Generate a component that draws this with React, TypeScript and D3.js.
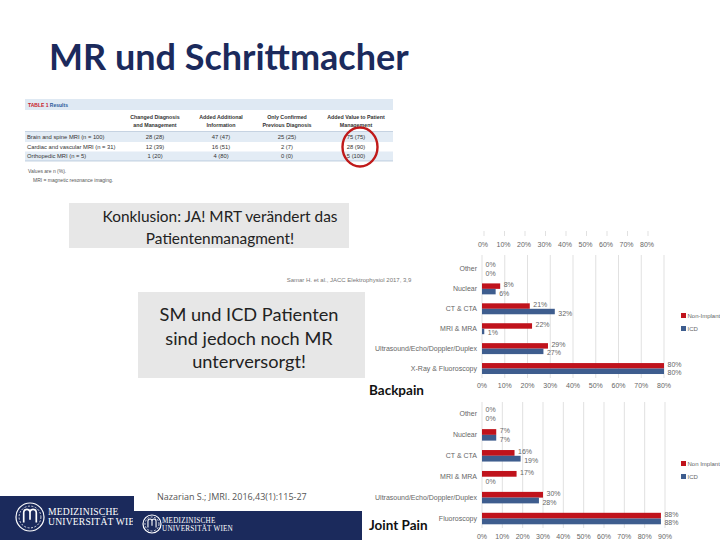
import React from "react";
import * as d3 from "d3";

// ---------- data ----------
const titleText = "MR und Schrittmacher";

const tableHeaders = [
  ["Changed Diagnosis", "and Management"],
  ["Added Additional", "Information"],
  ["Only Confirmed", "Previous Diagnosis"],
  ["Added Value to Patient", "Management"],
];
const tableRowLabels = [
  "Brain and spine MRI (n = 100)",
  "Cardiac and vascular MRI (n = 31)",
  "Orthopedic MRI (n = 5)",
];
const tableValues = [
  ["28 (28)", "47 (47)", "25 (25)", "75 (75)"],
  ["12 (39)", "16 (51)", "2 (7)", "28 (90)"],
  ["1 (20)", "4 (80)", "0 (0)", "5 (100)"],
];
const tableNotes = ["Values are n (%).", "MRI = magnetic resonance imaging."];

const box1Lines = ["Konklusion: JA! MRT verändert das", "Patientenmanagment!"];
const box2Lines = ["SM und ICD Patienten", "sind jedoch noch MR", "unterversorgt!"];
const citation1 = "Samar H. et al., JACC Elektrophysiol 2017, 3,9";
const citation2 = "Nazarian S.; JMRI. 2016,43(1):115-27";

const categories1 = ["Other", "Nuclear", "CT & CTA", "MRI & MRA", "Ultrasound/Echo/Doppler/Duplex", "X-Ray & Fluoroscopy"];
const nonImplant1 = [0, 8, 21, 22, 29, 80];
const icd1 = [0, 6, 32, 1, 27, 80];
const ticks1 = [0, 10, 20, 30, 40, 50, 60, 70, 80];

const categories2 = ["Other", "Nuclear", "CT & CTA", "MRI & MRA", "Ultrasound/Echo/Doppler/Duplex", "Fluoroscopy"];
const nonImplant2 = [0, 7, 16, 17, 30, 88];
const icd2 = [0, 7, 19, 0, 28, 88];
const ticks2 = [0, 10, 20, 30, 40, 50, 60, 70, 80, 90];

const seriesNames1 = ["Non-Implant", "ICD"];
const seriesNames2 = ["Non Implant", "ICD"];
const chartTitles = ["Backpain", "Joint Pain"];
const logoLines = ["MEDIZINISCHE", "UNIVERSITÄT WIEN"];

// ---------- styles ----------
const RED = "#c0131c";
const BLUE = "#3e5d8e";
const NAVY = "#1b2a5c";
const GRID = "#d9d9d9";
const LABEL = "#666";
const SANS = "Liberation Sans, Arial, sans-serif";
const CAL = "Lato, sans-serif";

function BarChart({ cats, nonVals, icdVals, xMax, xRange, yRange, gridY, axisY, legendY, names, ticks }) {
  const x = d3.scaleLinear().domain([0, xMax]).range(xRange);
  const y = d3.scaleBand().domain(cats).range(yRange).paddingInner(0.45).paddingOuter(0.225);
  const bh = y.bandwidth() / 2;
  return (
    <g>
      {ticks.map((t) => (
        <line key={"g" + t} x1={x(t)} x2={x(t)} y1={gridY[0]} y2={gridY[1]} stroke={GRID} strokeWidth={0.8} />
      ))}
      {ticks.map((t) => (
        <text key={"t" + t} x={x(t)} y={axisY} fontSize={7} fontFamily={SANS} fill={LABEL} textAnchor="middle">
          {t}%
        </text>
      ))}
      {cats.map((c, i) => {
        const y0 = y(c)!;
        const cy = y0 + bh;
        return (
          <g key={c}>
            <text x={xRange[0] - 5} y={cy + 2.4} fontSize={7} fontFamily={SANS} fill={LABEL} textAnchor="end">
              {c}
            </text>
            <rect x={x(0)} y={y0} width={x(nonVals[i]) - x(0)} height={bh} fill={RED} />
            <rect x={x(0)} y={y0 + bh} width={x(icdVals[i]) - x(0)} height={bh} fill={BLUE} />
            <text x={x(nonVals[i]) + 3.5} y={y0 + bh / 2 + 1} fontSize={7} fontFamily={SANS} fill={LABEL}>
              {nonVals[i]}%
            </text>
            <text x={x(icdVals[i]) + 3.5} y={y0 + bh * 1.5 + 4} fontSize={7} fontFamily={SANS} fill={LABEL}>
              {icdVals[i]}%
            </text>
          </g>
        );
      })}
      {names.map((n, i) => (
        <g key={n}>
          <rect x={681} y={legendY + i * 13 - 3} width={5} height={5} fill={i === 0 ? RED : BLUE} />
          <text x={687.5} y={legendY + i * 13 + 2.2} fontSize={6} fontFamily={SANS} fill={LABEL}>
            {n}
          </text>
        </g>
      ))}
    </g>
  );
}

function Logo({ cx, cy, r, tx, ty, fs, gap, clip }) {
  return (
    <g>
      <circle cx={cx} cy={cy} r={r} fill="none" stroke="#fff" strokeWidth={1.2} />
      <circle cx={cx} cy={cy} r={r * 0.78} fill="none" stroke="#fff" strokeWidth={0.8} strokeDasharray="2 1.5" />
      <path
        d={`M${cx - r * 0.45},${cy + r * 0.4} V${cy - r * 0.3} Q${cx - r * 0.45},${cy - r * 0.55} ${cx - r * 0.22},${cy - r * 0.55} Q${cx},${cy - r * 0.55} ${cx},${cy - r * 0.3} V${cy + r * 0.2} M${cx},${cy - r * 0.3} Q${cx},${cy - r * 0.55} ${cx + r * 0.22},${cy - r * 0.55} Q${cx + r * 0.45},${cy - r * 0.55} ${cx + r * 0.45},${cy - r * 0.3} V${cy + r * 0.4}`}
        fill="none"
        stroke="#fff"
        strokeWidth={r * 0.12}
      />
      <g clipPath={clip ? `url(#${clip})` : undefined}>
        {logoLines.map((l, i) => (
          <text key={l} x={tx} y={ty + i * gap} fontSize={fs} fontFamily="Liberation Serif, serif" fill="#fff" letterSpacing={0.2}>
            {l}
          </text>
        ))}
      </g>
    </g>
  );
}

export default function App() {
  const colX = [155, 221, 287, 356];
  const rowY = [137, 146.5, 156];
  return (
    <svg width={720} height={540} style={{ position: "absolute", left: 0, top: 0, background: "#fff" }}>
      <defs>
        <clipPath id="logoClip">
          <rect x={0} y={490} width={133} height={50} />
        </clipPath>
      </defs>
      <rect width={720} height={540} fill="#fff" />
      {/* title */}
      <text x={49} y={70} fontSize={36} fontWeight={700} fontFamily={CAL} fill={NAVY}>
        {titleText}
      </text>

      {/* table */}
      <rect x={25} y={99} width={368} height={11} fill="#dfe9f3" />
      <text x={28} y={106.5} fontSize={5} fontWeight={700} fontFamily={SANS} fill="#c8202a">
        TABLE 1 <tspan fill="#2a5a9a">Results</tspan>
      </text>
      {tableHeaders.map((h, i) => (
        <g key={i}>
          {h.map((l, j) => (
            <text key={j} x={colX[i]} y={119 + j * 8} fontSize={5.3} fontWeight={700} fontFamily={SANS} fill="#333" textAnchor="middle">
              {l}
            </text>
          ))}
        </g>
      ))}
      <line x1={25} x2={393} y1={131.5} y2={131.5} stroke="#9fb6cf" strokeWidth={0.6} />
      <rect x={25} y={132} width={368} height={10} fill="#e3ecf5" />
      <rect x={25} y={151.5} width={368} height={9.5} fill="#e3ecf5" />
      <line x1={25} x2={393} y1={161} y2={161} stroke="#9fb6cf" strokeWidth={0.6} />
      {tableRowLabels.map((l, i) => (
        <g key={l}>
          <text x={27} y={rowY[i] + 2} fontSize={5.8} fontFamily={SANS} fill="#333">
            {l}
          </text>
          {tableValues[i].map((v, j) => (
            <text key={j} x={colX[j]} y={rowY[i] + 2} fontSize={5.8} fontFamily={SANS} fill="#333" textAnchor="middle">
              {v}
            </text>
          ))}
        </g>
      ))}
      {tableNotes.map((n, i) => (
        <text key={n} x={28 + i * 5} y={173 + i * 8.5} fontSize={5} fontFamily={SANS} fill="#555">
          {n}
        </text>
      ))}
      <ellipse cx={360} cy={147} rx={17.5} ry={19.5} fill="none" stroke="#c01a1a" strokeWidth={2.4} />

      {/* gray boxes */}
      <rect x={69} y={203} width={280} height={45} fill="#e7e7e7" />
      {box1Lines.map((l, i) => (
        <text key={l} x={220} y={222 + i * 22} fontSize={15.4} fontFamily={CAL} fill="#222" textAnchor="middle">
          {l}
        </text>
      ))}
      <text x={349} y={282} fontSize={6} fontFamily={SANS} fill="#777" textAnchor="middle">
        {citation1}
      </text>
      <rect x={138} y={292} width={227} height={86} fill="#e7e7e7" />
      {box2Lines.map((l, i) => (
        <text key={l} x={249} y={321 + i * 23.5} fontSize={18.2} fontFamily={CAL} fill="#222" textAnchor="middle">
          {l}
        </text>
      ))}

      {/* top axis remnant */}
      {ticks1.map((t) => {
        const xt = d3.scaleLinear().domain([0, 80]).range([483, 647])(t);
        return (
          <g key={"top" + t}>
            <line x1={xt + 1} x2={xt + 1} y1={231} y2={236} stroke={GRID} strokeWidth={0.8} />
            <text x={xt} y={246.5} fontSize={7} fontFamily={SANS} fill={LABEL} textAnchor="middle">
              {t}%
            </text>
          </g>
        );
      })}

      <BarChart
        cats={categories1}
        nonVals={nonImplant1}
        icdVals={icd1}
        xMax={80}
        xRange={[482, 664]}
        yRange={[259, 378.5]}
        gridY={[255, 378]}
        axisY={388}
        legendY={316}
        names={seriesNames1}
        ticks={ticks1}
      />
      <BarChart
        cats={categories2}
        nonVals={nonImplant2}
        icdVals={icd2}
        xMax={90}
        xRange={[482, 665]}
        yRange={[403.5, 529]}
        gridY={[402, 528]}
        axisY={539}
        legendY={464}
        names={seriesNames2}
        ticks={ticks2}
      />
      <text x={369} y={395} fontSize={13.5} fontWeight={700} fontFamily={CAL} fill="#111">
        {chartTitles[0]}
      </text>

      {/* footer */}
      <rect x={134} y={511} width={228} height={29} fill={NAVY} />
      <rect x={0} y={496} width={134} height={44} fill={NAVY} />
      <Logo cx={30} cy={517} r={14} tx={48} ty={515} fs={9.6} gap={10} clip="logoClip" />
      <Logo cx={152} cy={524} r={9} tx={162} ty={523} fs={7.2} gap={7.5} clip={null} />
      <text x={157} y={500} fontSize={9} fontFamily="'Open Sans', sans-serif" fill="#555">
        {citation2}
      </text>
      <text x={369} y={530} fontSize={13.5} fontWeight={700} fontFamily={CAL} fill="#111">
        {chartTitles[1]}
      </text>
    </svg>
  );
}
